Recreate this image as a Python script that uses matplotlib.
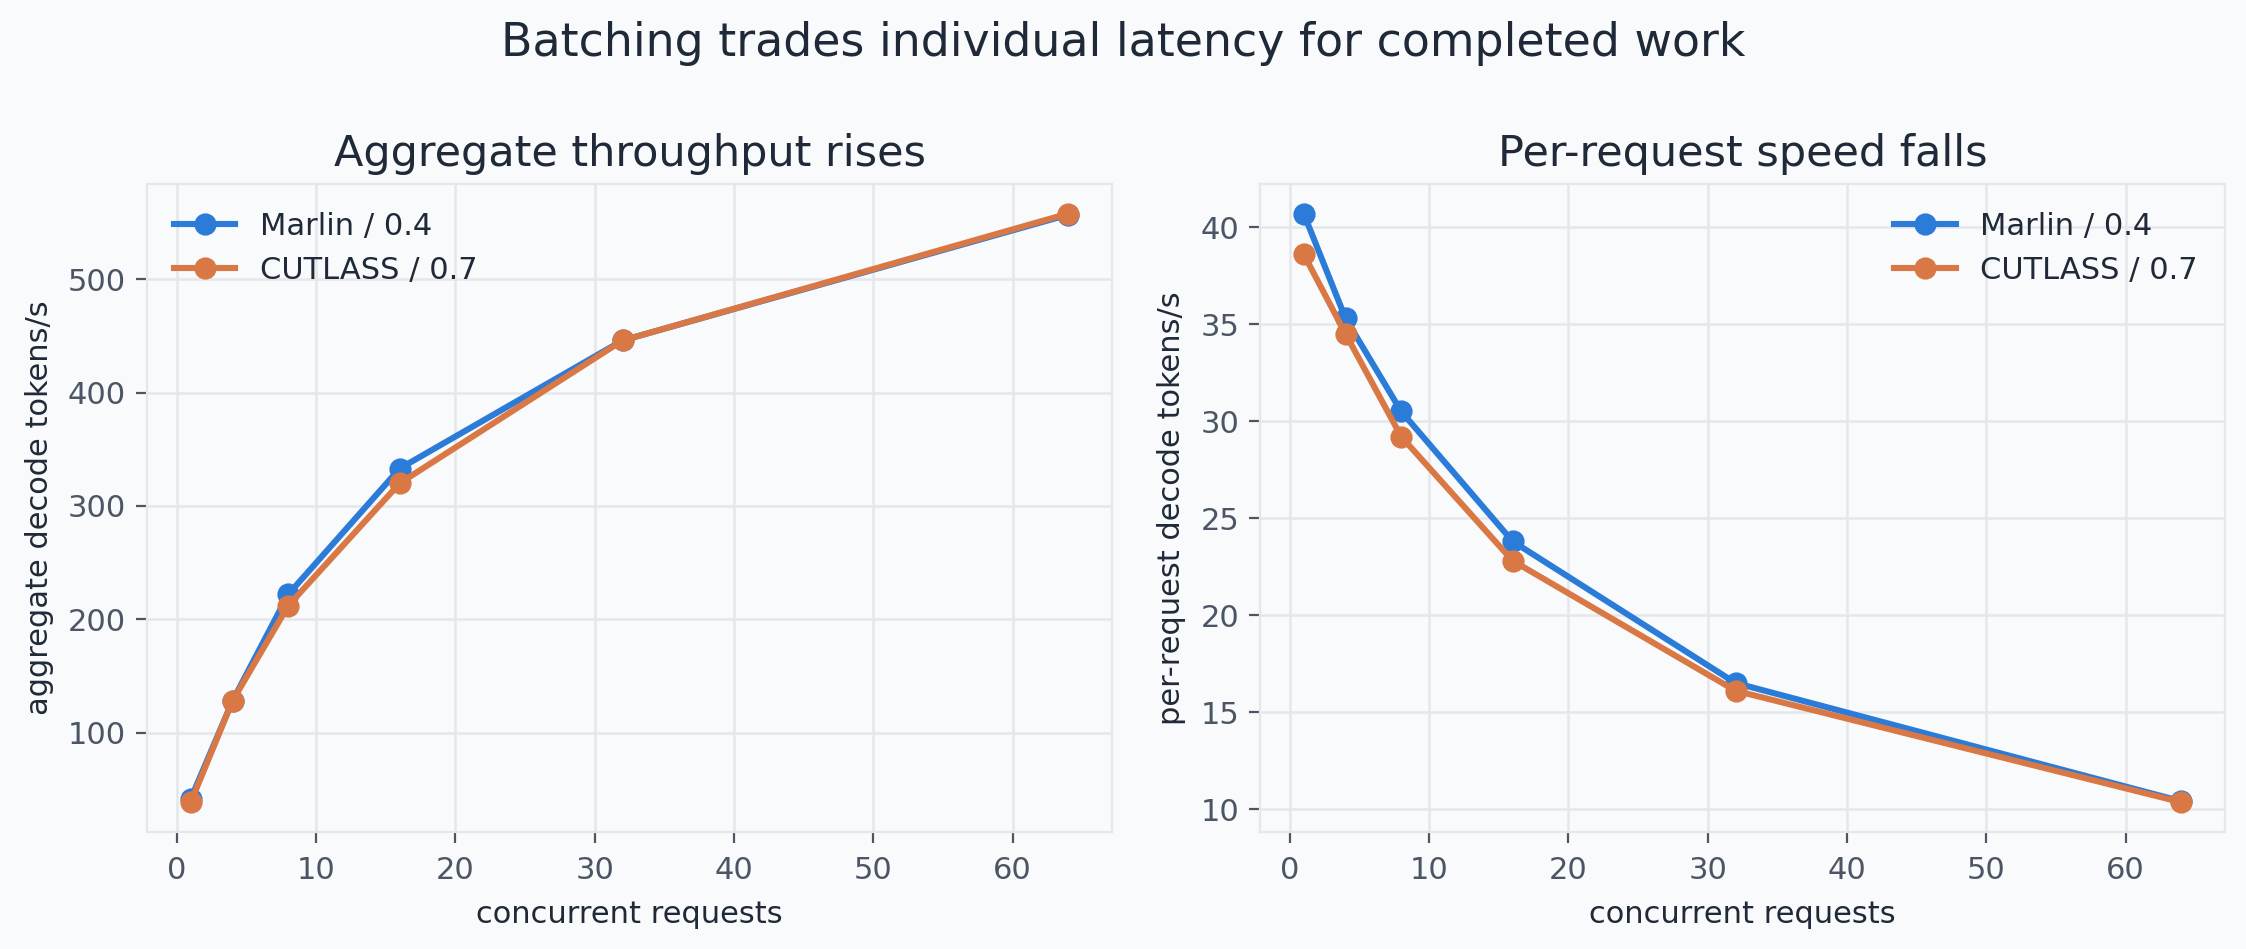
import matplotlib
matplotlib.use("Agg")
import matplotlib.pyplot as plt

# concurrency levels tested
concurrency = [1, 4, 8, 16, 32, 64]

# aggregate decode tokens/s
marlin_agg = [41.5, 128, 222, 333, 446, 557]
cutlass_agg = [38.5, 128, 212, 320, 446, 558]

# per-request decode tokens/s
marlin_per = [40.7, 35.3, 30.5, 23.8, 16.5, 10.4]
cutlass_per = [38.6, 34.5, 29.2, 22.8, 16.1, 10.35]

series_labels = ["Marlin / 0.4", "CUTLASS / 0.7"]
colors = ["#2b7bd9", "#d97845"]

BG = "#f8fafc"
TEXT = "#1f2937"
TICK = "#4b5563"
GRID = "#e5e7eb"

plt.rcParams["font.family"] = ["DejaVu Sans"]

fig, (ax1, ax2) = plt.subplots(1, 2, figsize=(11.23, 4.745), dpi=200)
fig.patch.set_facecolor(BG)
fig.subplots_adjust(left=0.0654, right=0.9907, bottom=0.1236, top=0.806, wspace=0.153)

panels = [
    (ax1, [marlin_agg, cutlass_agg], "Aggregate throughput rises",
     "aggregate decode tokens/s", "upper left"),
    (ax2, [marlin_per, cutlass_per], "Per-request speed falls",
     "per-request decode tokens/s", "upper right"),
]

for ax, ys, title, ylabel, loc in panels:
    ax.set_facecolor(BG)
    for y, lab, c in zip(ys, series_labels, colors):
        ax.plot(concurrency, y, marker="o", color=c, lw=2.2, ms=7, label=lab)
    ax.set_title(title, fontsize=15.5, color=TEXT, pad=6.5)
    ax.set_xlabel("concurrent requests", fontsize=11, color=TEXT, labelpad=5.5)
    ax.set_ylabel(ylabel, fontsize=11, color=TEXT, labelpad=5)
    ax.grid(True, color=GRID, lw=0.9)
    ax.set_axisbelow(True)
    for s in ax.spines.values():
        s.set_color(GRID)
    ax.tick_params(colors=TICK, labelsize=11, length=4)
    ax.tick_params(axis="x", pad=4.8)
    leg = ax.legend(loc=loc, frameon=False, fontsize=11)
    for t in leg.get_texts():
        t.set_color(TEXT)

ax1.set_yticks([100, 200, 300, 400, 500])
ax2.set_yticks([10, 15, 20, 25, 30, 35, 40])

fig.suptitle("Batching trades individual latency for completed work",
             fontsize=16.5, color=TEXT, y=0.978)

fig.savefig("out.png", dpi=200, facecolor=BG)
